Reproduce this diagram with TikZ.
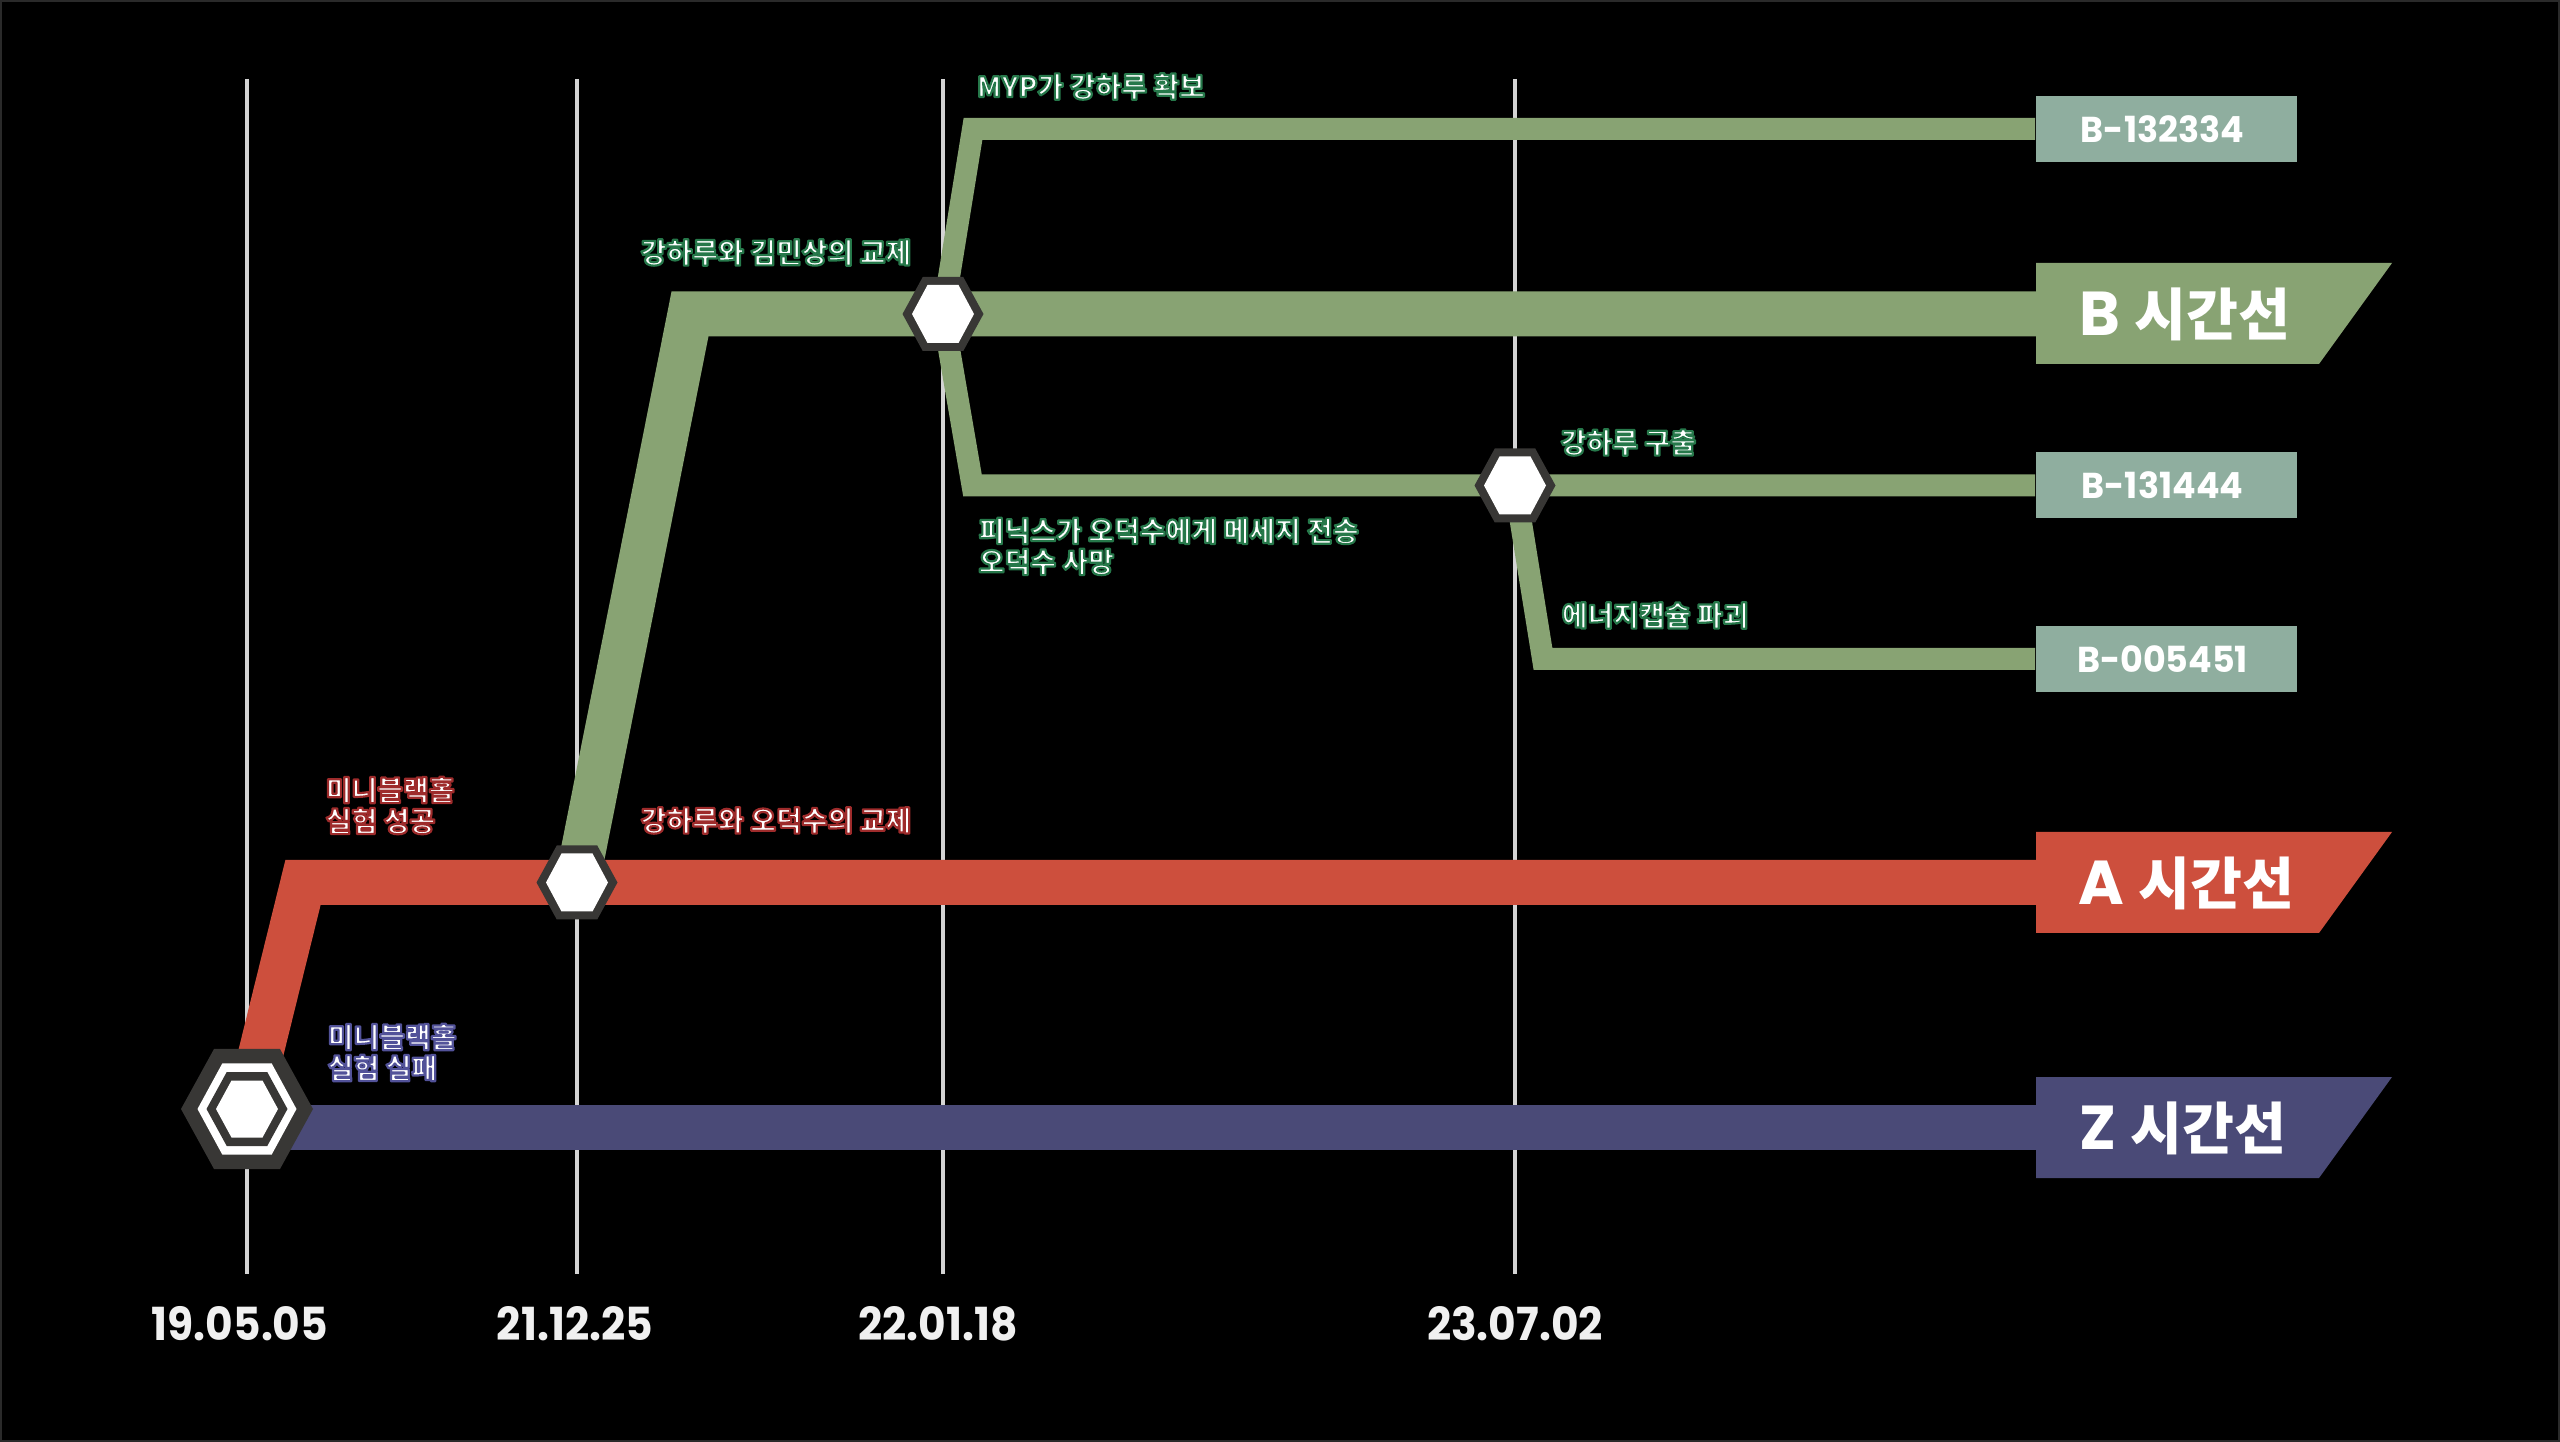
\documentclass[tikz,border=0pt]{standalone}
\usepackage{fontspec}
\usepackage{graphicx}
\newfontfamily\kr{Noto Sans CJK KR}
\newfontfamily\pop{Poppins}
\definecolor{grn}{HTML}{88A373}
\definecolor{aRed}{HTML}{CD4F3D}
\definecolor{zBlu}{HTML}{4A4A77}
\definecolor{codec}{HTML}{8FAE9F}
\definecolor{hexd}{HTML}{383735}
\definecolor{gridc}{HTML}{D4D4D4}
\definecolor{datec}{HTML}{F0F0F0}
\definecolor{framec}{HTML}{2A2A2A}
% outlined white text: #1 = stroke colour as "r g b"
\newcommand\outl[2]{\special{pdf:literal direct #1 RG 0.55 w 1 j 2 Tr}#2\special{pdf:literal direct 0 Tr}}
\newcommand\ogr{0.15 0.47 0.29}
\newcommand\ord{0.62 0.17 0.17}
\newcommand\opu{0.32 0.32 0.60}
% hexagon: #1 centre name, #2 half width, #3 half height, #4 fill
\newcommand\hexa[4]{\fill[#4] ([shift={(-#2,0)}]#1) -- ([shift={(-#2/2,-#3)}]#1) -- ([shift={(#2/2,-#3)}]#1) -- ([shift={(#2,0)}]#1) -- ([shift={(#2/2,#3)}]#1) -- ([shift={(-#2/2,#3)}]#1) -- cycle;}
\tikzset{
  gridline/.style={draw=gridc, line width=0.8pt},
  thickline/.style={line width=11.25pt, line join=miter, line cap=butt},
  thinline/.style={draw=grn, line width=5.5pt, line join=miter, line cap=butt},
  codebox/.style={fill=codec, minimum width=65.25pt, minimum height=16.5pt, inner sep=0pt, text=white, font=\pop\bfseries\fontsize{9pt}{9pt}\selectfont},
  lbl/.style={inner sep=0pt, text=white, font=\kr\bfseries\fontsize{7pt}{7.75pt}\selectfont, align=left},
  big/.style={inner sep=0pt, text=white, anchor=base west, font=\kr\bfseries\fontsize{14.1pt}{14.5pt}\selectfont},
  datelbl/.style={inner sep=0pt, text=datec, anchor=base, font=\pop\bfseries\fontsize{11.4pt}{12pt}\selectfont}
}
\newcommand\dt[1]{\scalebox{0.93}[1]{#1}}
\newcommand\cd[1]{\hspace*{-2pt}\scalebox{0.97}[1]{#1}}
\begin{document}
\begin{tikzpicture}[x=0.25pt, y=-0.25pt]
\useasboundingbox (0,0) rectangle (2560,1442);
\fill[black] (0,0) rectangle (2560,1442);
\draw[framec, line width=0.5pt] (1,1) rectangle (2559,1441);

% key points
\coordinate (h0) at (247,1109);
\coordinate (hA) at (577,882.5);
\coordinate (hB) at (943,314);
\coordinate (hC) at (1515,485.5);
\coordinate (a1) at (303,882.5);
\coordinate (b1) at (690,314);
\coordinate (m1) at (973,129);
\coordinate (n1) at (972.5,485.5);
\coordinate (e1) at (1543,659);
\coordinate (z0) at (247,1127.5);
\coordinate (zin) at (2036,1127.5);
\coordinate (ain) at (2036,882.5);
\coordinate (bin) at (2036,314);

% grid lines
\foreach \gx in {247,577,943,1515} \draw[gridline] (\gx,79) -- (\gx,1274);

% dates
\node[datelbl] (d1) at (240,1340) {\dt{19.05.05}};
\node[datelbl] (d2) at (575,1340) {\dt{21.12.25}};
\node[datelbl] (d3) at (938,1340) {\dt{22.01.18}};
\node[datelbl] (d4) at (1515,1340) {\dt{23.07.02}};

% code boxes
\node[codebox] (c1) at (2166.5,129) {\cd{B-132334}};
\node[codebox] (c2) at (2166.5,485.5) {\cd{B-131444}};
\node[codebox] (c3) at (2166.5,659) {\cd{B-005451}};

% timeline label shapes
\fill[grn] (2036,263) -- (2392,263) -- (2319,364) -- (2036,364) -- cycle;
\fill[aRed] (2036,832) -- (2392,832) -- (2319,933) -- (2036,933) -- cycle;
\fill[zBlu] (2036,1077) -- (2392,1077) -- (2319,1178) -- (2036,1178) -- cycle;

% lines
\draw[thickline, draw=zBlu] (z0) -- (zin);
\draw[thickline, draw=aRed] (h0) -- (a1) -- (ain);
\draw[thickline, draw=grn] (hA) -- (b1) -- (bin);
\draw[thinline] (hB) -- (m1) -- (c1.west);
\draw[thinline] (hB) -- (n1) -- (hC) -- (c2.west);
\draw[thinline] (hC) -- (e1) -- (c3.west);

% hexagons
\hexa{h0}{66}{60}{hexd}
\hexa{h0}{49.5}{45.5}{white}
\hexa{h0}{40.5}{37}{hexd}
\hexa{h0}{31}{28.5}{white}
\foreach \hh in {hA,hB,hC}{
  \hexa{\hh}{40.5}{37}{hexd}
  \hexa{\hh}{31}{29}{white}
}

% timeline names
\node[big] (Blab) at (2079,335.5) {{\pop\fontsize{15.5pt}{15.5pt}\selectfont B}\hspace{3.5pt}시간선};
\node[big] (Alab) at (2078,904.5) {{\pop\fontsize{15.5pt}{15.5pt}\selectfont A}\hspace{3.5pt}시간선};
\node[big] (Zlab) at (2079,1149.5) {{\pop\fontsize{15.5pt}{15.5pt}\selectfont Z}\hspace{3.5pt}시간선};

% event labels
\node[lbl, anchor=north west] (L1) at (325,776) {\outl{\ord}{미니블랙홀}\\\outl{\ord}{실험 성공}};
\node[lbl, anchor=north west] (L2) at (327,1023) {\outl{\opu}{미니블랙홀}\\\outl{\opu}{실험 실패}};
\node[lbl, anchor=west] (L3) at (640,252.5) {\outl{\ogr}{강하루와 김민상의 교제}};
\node[lbl, anchor=west] (L4) at (976,86.5) {\outl{\ogr}{MYP가 강하루 확보}};
\node[lbl, anchor=north west] (L5) at (978,517) {\outl{\ogr}{피닉스가 오덕수에게 메세지 전송}\\\outl{\ogr}{오덕수 사망}};
\node[lbl, anchor=west] (L6) at (1560,442.5) {\outl{\ogr}{강하루 구출}};
\node[lbl, anchor=west] (L7) at (1561,615.5) {\outl{\ogr}{에너지캡슐 파괴}};
\node[lbl, anchor=west] (L8) at (640,820.5) {\outl{\ord}{강하루와 오덕수의 교제}};
\end{tikzpicture}
\end{document}
